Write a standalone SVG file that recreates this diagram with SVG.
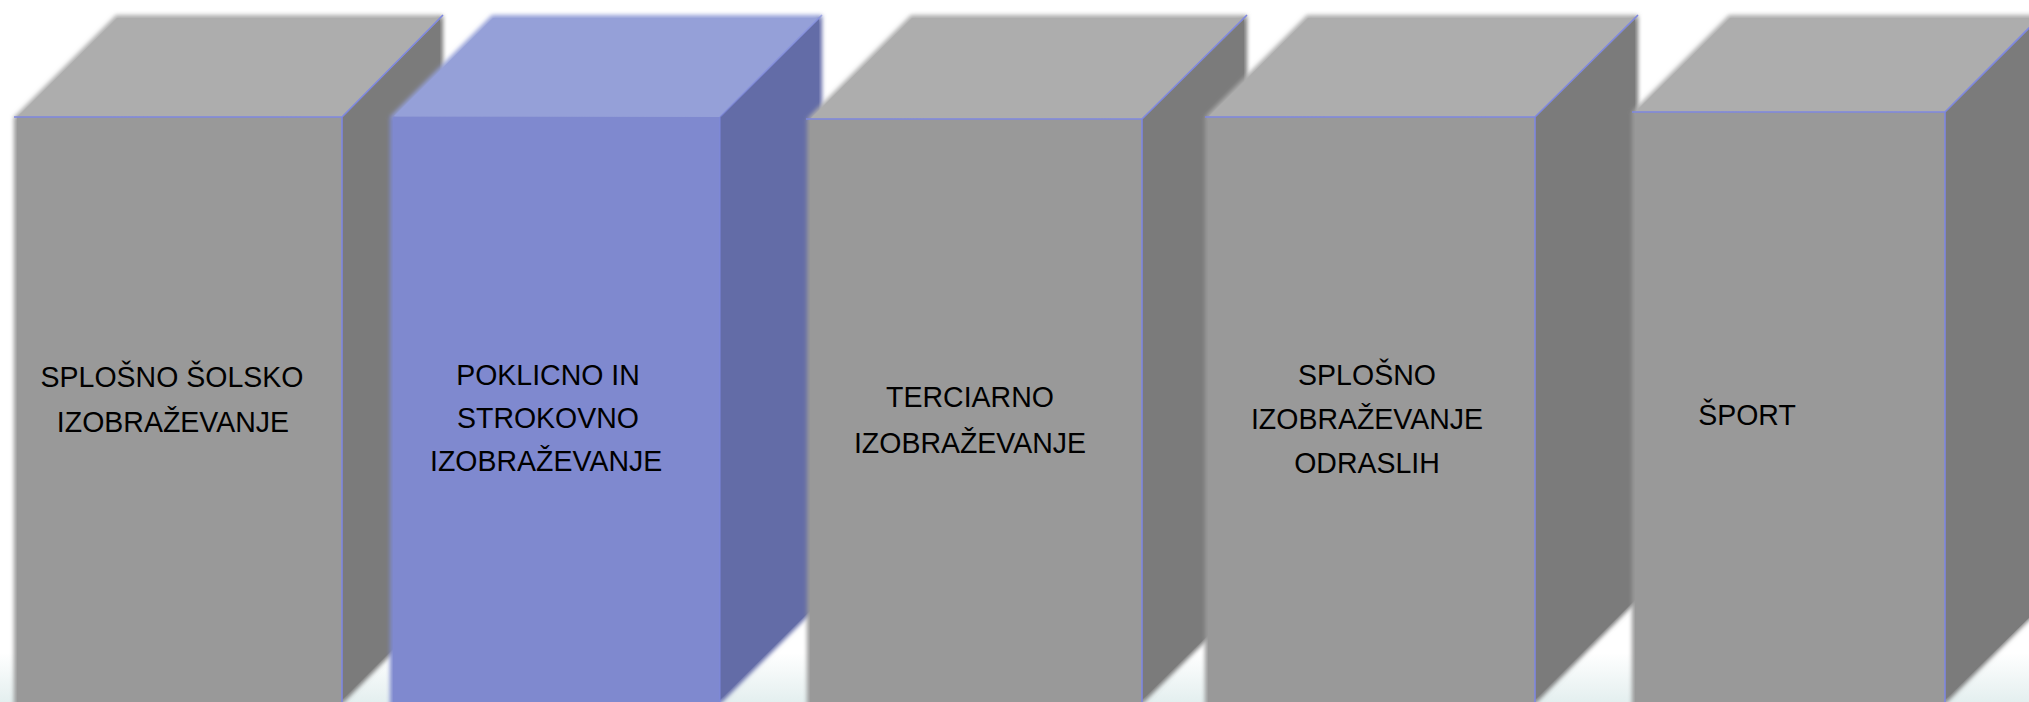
<svg xmlns="http://www.w3.org/2000/svg" width="2029" height="702" viewBox="0 0 2029 702">
<defs>
<linearGradient id="bg" x1="0" y1="0" x2="0" y2="1">
<stop offset="0" stop-color="#ffffff"/>
<stop offset="0.93" stop-color="#ffffff"/>
<stop offset="1" stop-color="#e4efef"/>
</linearGradient>
<filter id="soft" x="-5%" y="-5%" width="110%" height="110%">
<feGaussianBlur stdDeviation="2.2"/>
</filter>
<style>
.gt{fill:#adadad}.gf{fill:#999999}.gs{fill:#7b7b7b}
.bt{fill:#95a0d8}.bf{fill:#7f89cf}.bs{fill:#636ca7}
.edge{fill:none;stroke:#7f88e0;stroke-width:1.6}
.lbl{font-family:"Liberation Sans",Arial,sans-serif;font-size:30px;fill:#000;text-anchor:middle}
</style>
</defs>
<rect x="0" y="0" width="2029" height="702" fill="url(#bg)"/>

<g id="box1">
<g filter="url(#soft)">
<polygon class="gt" points="14,117 116,15 443,15 342,117"/>
<polygon class="gs" points="342,117 443,15 443,602 342,704"/>
<rect class="gf" x="14" y="117" width="328" height="590"/>
</g>
<polygon class="gt" points="18,116 117,18 441,18 342,117"/>
<polygon class="gs" points="342,117 440,19 440,602 342,700"/>
<rect class="gf" x="17" y="117" width="325" height="590"/>
<path class="edge" d="M14,117 H342 V704 M342,117 L443,15"/>
<g transform="translate(172,0) scale(0.95,1)">
<text class="lbl" x="0" y="387">SPLOŠNO ŠOLSKO</text>
<text class="lbl" x="1" y="432">IZOBRAŽEVANJE</text>
</g>
</g>

<g id="box2">
<g filter="url(#soft)">
<polygon class="bt" points="390,117 492,15 822,15 720,117"/>
<polygon class="bs" points="720,117 822,15 822,602 720,704"/>
<rect class="bf" x="390" y="117" width="330" height="590"/>
</g>
<polygon class="bt" points="394,116 493,18 820,18 720,117"/>
<polygon class="bs" points="720,117 819,19 819,602 720,700"/>
<rect class="bf" x="393" y="117" width="327" height="590"/>
<path class="edge" d="M720,117 V704 M720,117 L822,15" stroke-opacity="0.6"/>
<g transform="translate(548,0) scale(0.95,1)">
<text class="lbl" x="0" y="385">POKLICNO IN</text>
<text class="lbl" x="0" y="428">STROKOVNO</text>
<text class="lbl" x="-2" y="471">IZOBRAŽEVANJE</text>
</g>
</g>

<g id="box3">
<g filter="url(#soft)">
<polygon class="gt" points="807,119 911,15 1247,15 1142,119"/>
<polygon class="gs" points="1142,119 1247,15 1247,600 1142,704"/>
<rect class="gf" x="807" y="119" width="335" height="590"/>
</g>
<polygon class="gt" points="811,118 912,18 1245,18 1142,119"/>
<polygon class="gs" points="1142,119 1244,19 1244,600 1142,700"/>
<rect class="gf" x="810" y="119" width="332" height="590"/>
<path class="edge" d="M806,119 H1142 V704 M1142,119 L1247,15"/>
<g transform="translate(970,0) scale(0.95,1)">
<text class="lbl" x="0" y="407">TERCIARNO</text>
<text class="lbl" x="0" y="453">IZOBRAŽEVANJE</text>
</g>
</g>

<g id="box4">
<g filter="url(#soft)">
<polygon class="gt" points="1205,117 1307,15 1638,15 1535,117"/>
<polygon class="gs" points="1535,117 1638,15 1638,600 1535,704"/>
<rect class="gf" x="1205" y="117" width="330" height="590"/>
</g>
<polygon class="gt" points="1209,116 1308,18 1636,18 1535,117"/>
<polygon class="gs" points="1535,117 1635,19 1635,600 1535,700"/>
<rect class="gf" x="1208" y="117" width="327" height="590"/>
<path class="edge" d="M1205,117 H1535 V704 M1535,117 L1638,15"/>
<g transform="translate(1367,0) scale(0.95,1)">
<text class="lbl" x="0" y="385">SPLOŠNO</text>
<text class="lbl" x="0" y="429">IZOBRAŽEVANJE</text>
<text class="lbl" x="0" y="473">ODRASLIH</text>
</g>
</g>

<g id="box5">
<g filter="url(#soft)">
<polygon class="gt" points="1632,112 1729,15 2042,15 1945,112"/>
<polygon class="gs" points="1945,112 2042,15 2042,607 1945,704"/>
<rect class="gf" x="1632" y="112" width="313" height="595"/>
</g>
<polygon class="gt" points="1636,111 1730,18 2040,18 1945,112"/>
<polygon class="gs" points="1945,112 2040,17 2040,607 1945,700"/>
<rect class="gf" x="1635" y="112" width="310" height="595"/>
<path class="edge" d="M1632,112 H1945 V704 M1945,112 L2042,15"/>
<g transform="translate(1747,0) scale(0.95,1)">
<text class="lbl" x="0" y="425">ŠPORT</text>
</g>
</g>

<g id="connectors"></g>
</svg>
